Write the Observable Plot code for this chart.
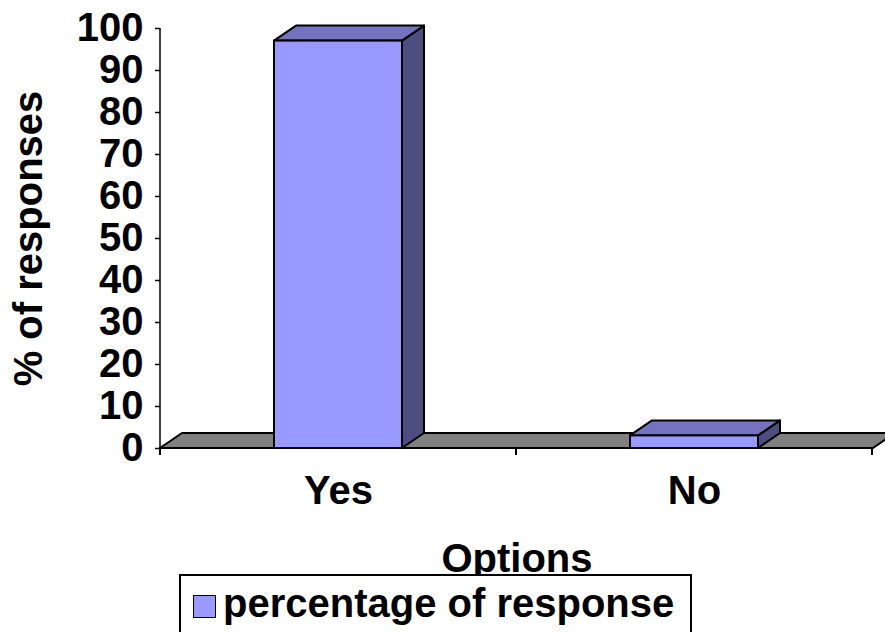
<!DOCTYPE html>
<html>
<head>
<meta charset="utf-8">
<script src="https://cdn.jsdelivr.net/npm/d3@7"></script>
<script src="https://cdn.jsdelivr.net/npm/@observablehq/plot@0.6"></script>
<style>
  body { margin: 0; background: #fff; }
  #chart { position: relative; width: 885px; height: 632px; overflow: hidden; background: #fff;
           font-family: "Liberation Sans", Arial, sans-serif; }
  #chart svg { overflow: visible; }
  #legend { position: absolute; left: 179px; top: 574px; width: 513px; height: 80px;
            border: 2px solid #000; background: #fff; box-sizing: border-box; }
  #legend .swatch { position: absolute; left: 12px; top: 19px; width: 23px; height: 23px;
            border: 1.5px solid #000; background: #9999FF; box-sizing: border-box; }
  #legend .label { position: absolute; left: 42px; top: 7px; font-size: 40px; font-weight: bold;
            line-height: 40px; white-space: nowrap; color: #000; }
</style>
</head>
<body>
<div id="chart"></div>
<script>
// Survey answers and their share of responses
const options = ["Yes", "No"];
const percentages = [97, 3];
const yTicks = [0, 10, 20, 30, 40, 50, 60, 70, 80, 90, 100];
const xTitle = "Options";
const yTitle = "% of responses";
const seriesName = "percentage of response";

const rows = options.map((option, i) => ({option, value: percentages[i]}));

// 3D look: face colours and the depth offset of the extrusion (px)
const FRONT = "#9999FF", TOP = "#7373BF", SIDE = "#4D4D80", FLOOR = "#808080";
const DX = 22, DY = -15;
const font = {fontFamily: '"Liberation Sans", Arial, sans-serif', fontWeight: "bold", fontSize: 40};
const SVGNS = "http://www.w3.org/2000/svg";

function polygon(points, fill) {
  const p = document.createElementNS(SVGNS, "polygon");
  p.setAttribute("points", points.map(d => d.join(",")).join(" "));
  p.setAttribute("fill", fill);
  p.setAttribute("stroke", "#000");
  p.setAttribute("stroke-width", 2);
  p.setAttribute("stroke-linejoin", "round");
  return p;
}
function line(x1, y1, x2, y2, w) {
  const l = document.createElementNS(SVGNS, "line");
  l.setAttribute("x1", x1); l.setAttribute("y1", y1);
  l.setAttribute("x2", x2); l.setAttribute("y2", y2);
  l.setAttribute("stroke", "#000");
  l.setAttribute("stroke-width", w);
  return l;
}

// Floor of the chart: the y = 0 plane pushed back by the depth offset,
// plus the category boundary ticks and the value axis line.
const floor = Plot.ruleY([0], {
  render(index, scales, values, dims) {
    const g = document.createElementNS(SVGNS, "g");
    const y0 = scales.y(0);
    const left = dims.marginLeft, right = dims.width - dims.marginRight;
    g.appendChild(polygon([[left, y0], [right, y0], [right + DX, y0 + DY], [left + DX, y0 + DY]], FLOOR));
    const step = scales.x.step(), bw = scales.x.bandwidth(), gap = (step - bw) / 2;
    const edges = options.map(o => scales.x(o) - gap);
    edges.push(scales.x(options[options.length - 1]) + bw + gap);
    for (const e of edges) g.appendChild(line(e, y0, e, y0 + 7, 2));
    g.appendChild(line(left, scales.y(yTicks[yTicks.length - 1]), left, y0 + 1, 1.5));
    return g;
  }
});

// Columns: the front faces come from barY; top and side faces are derived from them.
const columns = Plot.barY(rows, {
  x: "option", y: "value", fill: FRONT, stroke: "#000", strokeWidth: 2,
  render(index, scales, values, dims, context, next) {
    const g = next(index, scales, values, dims, context);
    for (const r of Array.from(g.querySelectorAll("rect"))) {
      const x = +r.getAttribute("x"), y = +r.getAttribute("y");
      const w = +r.getAttribute("width"), h = +r.getAttribute("height");
      const side = polygon([[x + w, y + h], [x + w + DX, y + h + DY], [x + w + DX, y + DY], [x + w, y]], SIDE);
      const top = polygon([[x, y], [x + DX, y + DY], [x + w + DX, y + DY], [x + w, y]], TOP);
      r.parentNode.insertBefore(side, r);
      r.parentNode.insertBefore(top, r);
    }
    return g;
  }
});

const chart = Plot.plot({
  width: 885,
  height: 575,
  marginTop: 28,
  marginLeft: 160,
  marginRight: 12,
  marginBottom: 127,
  x: {domain: options, paddingInner: 0.64, paddingOuter: 0.32},
  y: {domain: [0, 100]},
  marks: [
    floor,
    columns,
    Plot.axisY({ticks: yTicks, tickSize: 5, tickPadding: 12, strokeWidth: 1.5, tickFormat: d => String(d), label: null, ...font}),
    Plot.axisX({tickSize: 0, tickPadding: 27, label: null, ...font}),
    Plot.text([xTitle], {text: d => d, frameAnchor: "bottom", dy: 111, lineAnchor: "middle", ...font}),
    Plot.text([yTitle], {text: d => d, frameAnchor: "left", textAnchor: "middle", rotate: -90, dx: -131, lineAnchor: "middle", ...font})
  ]
});

const root = document.getElementById("chart");
root.appendChild(chart);

const legend = document.createElement("div");
legend.id = "legend";
legend.innerHTML = `<div class="swatch"></div><div class="label"></div>`;
legend.querySelector(".label").textContent = seriesName;
root.appendChild(legend);
</script>
</body>
</html>
